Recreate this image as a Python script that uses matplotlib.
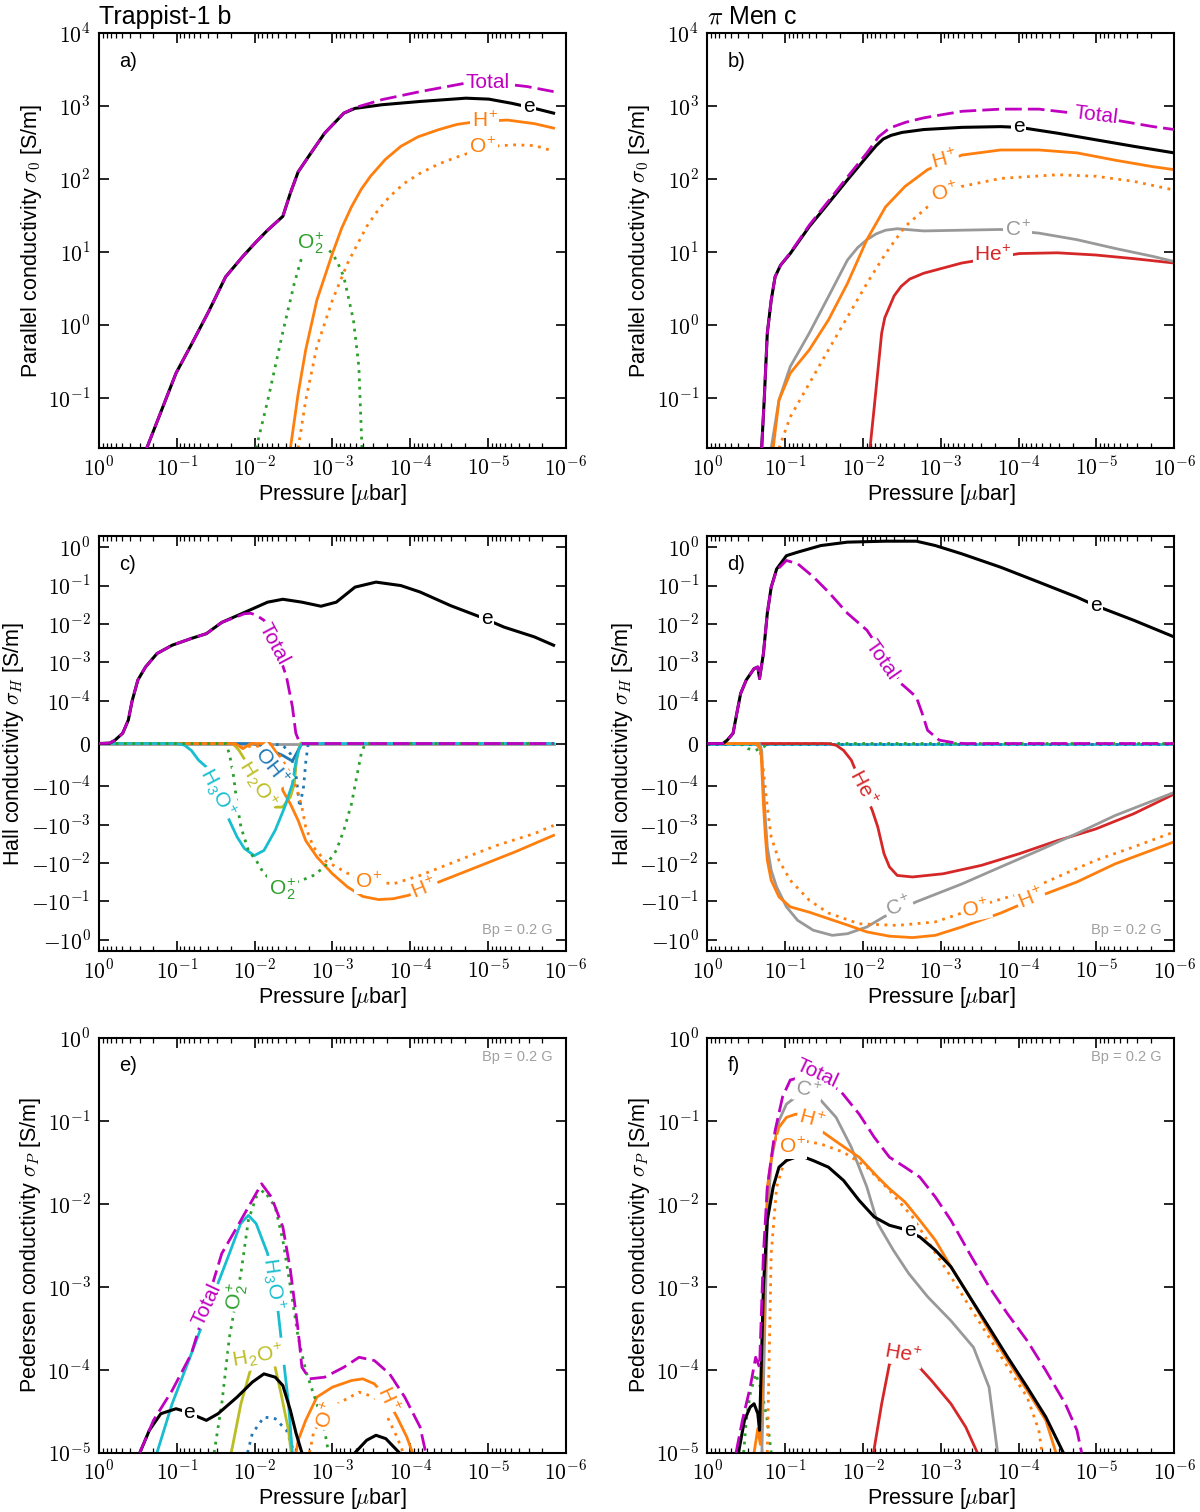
import numpy as np
import matplotlib
matplotlib.use('Agg')
import matplotlib.pyplot as plt
from matplotlib.ticker import (FuncFormatter, NullLocator, FixedLocator, NullFormatter)

plt.rcParams['font.family'] = ['Liberation Sans', 'DejaVu Sans']
plt.rcParams['mathtext.fontset'] = 'cm'

# --- colours / styles ---
MAG = '#bf00bf'
ORANGE = '#ff7f0e'
GREEN = '#2ca02c'
GRAY = '#999999'
RED = '#d62728'
CYAN = '#17becf'
OLIVE = '#bcbd22'
BLUE = '#1f77b4'
DASH = (0, (6, 2.2))
DOT = (0, (1, 2))

# ---------------- data (log10 pressure in ubar) ----------------
# a) parallel conductivity, Trappist-1 b  (log10 sigma)
a_e_lp = [-0.613, -0.745, -0.99, -1.186, -1.407, -1.627, -1.848, -2.02, -2.167, -2.363, -2.46,
          -2.56, -2.706, -2.90, -3.147, -3.29, -3.637, -4.127, -4.716, -5.01, -5.304, -5.598, -5.843]
a_e_ls = [-1.69, -1.33, -0.66, -0.27, 0.18, 0.66, 0.94, 1.14, 1.30, 1.49, 1.81,
          2.10, 2.33, 2.63, 2.905, 2.97, 3.02, 3.065, 3.11, 3.097, 3.04, 2.97, 2.905]
a_tot_lp = [-0.613, -0.745, -0.99, -1.186, -1.407, -1.627, -1.848, -2.02, -2.167, -2.363, -2.46,
            -2.56, -2.706, -2.90, -3.147, -3.29, -3.637, -4.127, -4.716, -5.108, -5.5, -5.843]
a_tot_ls = [-1.69, -1.33, -0.66, -0.27, 0.18, 0.66, 0.94, 1.14, 1.30, 1.49, 1.81,
            2.10, 2.33, 2.63, 2.905, 2.98, 3.09, 3.20, 3.317, 3.317, 3.27, 3.20]
a_hp_lp = [-2.46, -2.56, -2.657, -2.80, -3.0, -3.12, -3.245, -3.37, -3.49, -3.68, -3.88, -4.1,
           -4.37, -4.6, -4.86, -5.25, -5.6, -5.843]
a_hp_ls = [-1.69, -0.94, -0.34, 0.34, 0.98, 1.33, 1.62, 1.86, 2.04, 2.27, 2.45, 2.58,
           2.68, 2.75, 2.79, 2.81, 2.76, 2.70]
a_op_lp = [-2.56, -2.657, -2.80, -3.0, -3.196, -3.44, -3.59, -3.735, -3.92, -4.127, -4.37, -4.62,
           -5.01, -5.35, -5.6, -5.79]
a_op_ls = [-1.69, -1.03, -0.30, 0.34, 0.85, 1.35, 1.58, 1.76, 1.94, 2.08, 2.21, 2.31,
           2.45, 2.47, 2.46, 2.40]
a_o2_lp = [-2.02, -2.17, -2.36, -2.51, -2.62, -2.75, -2.88, -3.0, -3.07, -3.147, -3.27, -3.34, -3.38]
a_o2_ls = [-1.69, -1.03, -0.11, 0.57, 0.98, 1.12, 1.10, 0.98, 0.85, 0.66, 0.07, -0.57, -1.69]

# b) parallel conductivity, pi Men c
b_e_lp = [-0.697, -0.73, -0.77, -0.82, -0.87, -0.94, -1.065, -1.31, -1.556, -1.80, -2.05,
          -2.17, -2.26, -2.36, -2.5, -2.78, -3.27, -3.77, -4.01, -4.50, -4.99, -5.48, -6.0]
b_e_ls = [-1.69, -1.03, -0.11, 0.34, 0.66, 0.82, 0.98, 1.35, 1.67, 1.99, 2.31,
          2.46, 2.55, 2.60, 2.64, 2.68, 2.71, 2.72, 2.71, 2.63, 2.54, 2.45, 2.36]
b_tot_lp = [-0.697, -0.73, -0.77, -0.82, -0.87, -0.94, -1.065, -1.31, -1.556, -1.80, -2.05,
            -2.2, -2.34, -2.55, -2.78, -3.27, -3.77, -4.26, -4.75, -5.24, -5.73, -6.0]
b_tot_ls = [-1.69, -1.03, -0.11, 0.34, 0.66, 0.82, 0.99, 1.37, 1.70, 2.03, 2.36,
            2.58, 2.70, 2.78, 2.84, 2.93, 2.96, 2.96, 2.90, 2.81, 2.72, 2.68]
b_hp_lp = [-0.845, -0.92, -1.065, -1.31, -1.556, -1.80, -2.05, -2.29, -2.54, -2.83, -3.27,
           -3.77, -4.26, -4.75, -5.24, -5.73, -6.0]
b_hp_ls = [-1.69, -1.03, -0.66, -0.34, 0.07, 0.57, 1.17, 1.62, 1.90, 2.13, 2.33,
           2.40, 2.40, 2.36, 2.26, 2.17, 2.13]
b_op_lp = [-0.92, -1.065, -1.31, -1.556, -1.80, -2.05, -2.29, -2.54, -2.83, -3.27, -3.77,
           -4.50, -4.99, -5.48, -6.0]
b_op_ls = [-1.69, -1.26, -0.80, -0.34, 0.11, 0.57, 0.98, 1.35, 1.62, 1.90, 2.01,
           2.06, 2.04, 1.97, 1.85]
b_cp_lp = [-0.82, -0.92, -1.065, -1.31, -1.556, -1.80, -1.93, -2.05, -2.17, -2.29, -2.44, -2.78,
           -3.27, -3.77, -4.26, -4.75, -5.24, -5.73, -6.0]
b_cp_ls = [-1.69, -1.03, -0.57, -0.11, 0.39, 0.89, 1.06, 1.17, 1.25, 1.30, 1.32, 1.29,
           1.30, 1.31, 1.26, 1.17, 1.05, 0.94, 0.87]
b_hep_lp = [-2.09, -2.145, -2.24, -2.28, -2.34, -2.40, -2.49, -2.60, -2.78, -3.27, -4.01, -4.50,
            -4.99, -5.48, -6.0]
b_hep_ls = [-1.69, -1.12, -0.11, 0.10, 0.25, 0.40, 0.53, 0.63, 0.71, 0.85, 0.98, 0.99,
            0.96, 0.91, 0.85]

# c) Hall conductivity, Trappist-1 b  (signed sigma in S/m)
c_e_lp = [0.0, -0.14, -0.206, -0.304, -0.377, -0.426, -0.5, -0.598, -0.745, -0.94, -1.186, -1.38,
          -1.578, -1.87, -2.167, -2.363, -2.608, -2.853, -3.05, -3.29, -3.56, -3.88, -4.127,
          -4.52, -4.91, -5.206, -5.598, -5.843]
c_e_s = [0, 1e-6, 8e-6, 2.4e-5, 5.5e-5, 1.0e-4, 3.5e-4, 7.6e-4, 1.7e-3, 2.8e-3, 4.2e-3, 5.6e-3,
         1.1e-2, 2.0e-2, 3.7e-2, 4.4e-2, 3.7e-2, 2.9e-2, 3.7e-2, 9.1e-2, 0.123, 0.10, 0.068,
         0.030, 0.015, 8.3e-3, 4.6e-3, 2.8e-3]
c_tot_lp = [0.0, -0.14, -0.206, -0.304, -0.377, -0.426, -0.5, -0.598, -0.745, -0.94, -1.186, -1.38,
            -1.578, -1.87, -1.95, -2.02, -2.12, -2.216, -2.31, -2.41, -2.485, -2.53, -2.58,
            -2.62, -5.843]
c_tot_s = [0, 1e-6, 8e-6, 2.4e-5, 5.5e-5, 1.0e-4, 3.5e-4, 7.6e-4, 1.7e-3, 2.8e-3, 4.2e-3, 5.6e-3,
           1.1e-2, 1.85e-2, 1.9e-2, 1.7e-2, 1.25e-2, 5.6e-3, 1.7e-3, 4.2e-4, 8.7e-5, 2.4e-5, 1.5e-6,
           0, 0]
c_h3o_lp = [0.0, -1.0, -1.1, -1.186, -1.28, -1.38, -1.676, -1.775, -1.87, -1.995, -2.12, -2.265,
            -2.387, -2.485, -2.534, -2.58, -2.61, -5.843]
c_h3o_s = [0, 0, -4e-6, -1.6e-5, -3.9e-5, -5.5e-5, -7.8e-4, -2.1e-3, -4.2e-3, -6.4e-3, -4.7e-3,
           -1.4e-3, -3.5e-4, -9.5e-5, -3.9e-5, -7.9e-6, 0, 0]
c_o2_lp = [0.0, -1.63, -1.676, -1.725, -1.775, -1.824, -1.92, -2.02, -2.12, -2.265, -2.45, -2.608,
           -2.755, -2.90, -3.05, -3.147, -3.245, -3.32, -3.37, -3.42, -5.843]
c_o2_s = [0, 0, -2.4e-5, -7.1e-5, -2.9e-4, -1.15e-3, -4.7e-3, -8.5e-3, -1.9e-2, -3.2e-2, -3.5e-2,
          -2.8e-2, -2.1e-2, -1.26e-2, -4.7e-3, -1.4e-3, -2.9e-4, -7.1e-5, -2.4e-5, 0, 0]
c_h2o_lp = [0.0, -1.72, -1.8, -1.85, -2.265, -2.36, -2.46, -2.51, -2.53, -2.56, -2.59]
c_h2o_s = [0, 0, -1.6e-5, -3.1e-5, -3.5e-4, -3.5e-4, -1.9e-4, -9.5e-5, -5.5e-5, -1.6e-5, 0]
c_oh_lp = [0.0, -1.98, -2.07, -2.363, -2.485, -2.56, -2.61]
c_oh_s = [0, 0, -4e-6, -2.8e-5, -4.1e-5, -1.6e-5, 0]
c_x_lp = [-2.167, -2.363, -2.46, -2.53, -2.58, -2.63, -2.66, -2.69, -5.843]
c_x_s = [0, -4e-6, -2.4e-5, -7.1e-5, -3.5e-4, -1.0e-4, -3.9e-5, 0, 0]
c_op_lp = [0.0, -1.7, -1.85, -2.0, -2.31, -2.46, -2.534, -2.608, -2.657, -2.755, -2.90, -3.05,
           -3.245, -3.39, -3.78, -4.127, -4.618, -5.108, -5.598, -5.843]
c_op_s = [0, 0, -1.0e-5, -4e-6, -2.4e-5, -7.1e-5, -1.06e-4, -3.5e-4, -1.16e-3, -3.8e-3, -8.5e-3,
          -1.26e-2, -2.1e-2, -2.7e-2, -3.5e-2, -2.1e-2, -8.5e-3, -3.5e-3, -1.7e-3, -1.05e-3]
c_hp_lp = [0.0, -1.75, -1.85, -1.95, -2.2, -2.29, -2.363, -2.46, -2.56, -2.657, -2.80, -3.0,
           -3.196, -3.39, -3.59, -3.78, -3.98, -4.37, -4.86, -5.35, -5.843]
c_hp_s = [0, 0, -1.2e-5, 0, 0, -2.4e-5, -1.3e-4, -2.9e-4, -7.8e-4, -2.6e-3, -6.9e-3, -1.9e-2,
          -4.2e-2, -7.4e-2, -8.9e-2, -8.5e-2, -6.9e-2, -3.1e-2, -1.26e-2, -5.1e-3, -1.9e-3]
c_gray_lp = [0.0, -5.843]
c_gray_s = [0, 0]

# d) Hall conductivity, pi Men c
d_e_lp = [0.0, -0.2, -0.255, -0.33, -0.378, -0.427, -0.50, -0.60, -0.648, -0.67, -0.72, -0.77,
          -0.82, -0.89, -1.016, -1.16, -1.458, -1.80, -2.29, -2.685, -2.93, -3.27, -3.77, -4.26,
          -4.75, -4.99, -5.48, -6.0]
d_e_s = [0, 0, 7.9e-6, 2.4e-5, 7.1e-5, 1.55e-4, 3.5e-4, 6.9e-4, 7.6e-4, 3.8e-4, 1.7e-3, 1.9e-2,
         9.1e-2, 0.27, 0.6, 0.74, 1.1, 1.35, 1.43, 1.43, 1.1, 0.67, 0.30, 0.123,
         0.050, 0.030, 0.0125, 4.6e-3]
d_tot_lp = [0.0, -0.2, -0.255, -0.33, -0.378, -0.427, -0.50, -0.60, -0.648, -0.67, -0.72, -0.77,
            -0.82, -0.89, -1.016, -1.16, -1.36, -1.556, -1.80, -2.05, -2.34, -2.49, -2.54, -2.685,
            -2.76, -2.83, -2.98, -3.18, -3.3, -6.0]
d_tot_s = [0, 0, 7.9e-6, 2.4e-5, 7.1e-5, 1.55e-4, 3.5e-4, 6.9e-4, 7.6e-4, 3.8e-4, 1.7e-3, 1.9e-2,
           9.1e-2, 0.25, 0.45, 0.37, 0.17, 0.068, 1.9e-2, 6.9e-3, 9.3e-4, 2.8e-4, 2.3e-4, 1.26e-4,
           7.1e-5, 3.1e-5, 7.9e-6, 1.6e-6, 0, 0]
d_hep_lp = [0.0, -1.55, -1.654, -1.75, -1.85, -2.12, -2.19, -2.27, -2.34, -2.44, -2.636, -3.03,
            -3.52, -4.01, -4.50, -4.99, -5.48, -6.0]
d_hep_s = [0, 0, -4e-6, -1.6e-5, -3.9e-5, -4.3e-4, -1.15e-3, -5.7e-3, -1.26e-2, -2.1e-2, -2.3e-2,
           -1.9e-2, -1.15e-2, -5.7e-3, -2.6e-3, -1.3e-3, -5.2e-4, -1.6e-4]
d_cp_lp = [0.0, -0.67, -0.697, -0.72, -0.746, -0.77, -0.82, -0.89, -1.016, -1.16, -1.36, -1.605,
           -1.80, -2.05, -2.27, -2.685, -3.27, -3.77, -4.26, -4.75, -5.24, -6.0]
d_cp_s = [0, 0, -1.6e-5, -1.06e-4, -7.8e-4, -3.8e-3, -1.55e-2, -4.2e-2, -0.138, -0.31, -0.56, -0.76,
          -0.69, -0.46, -0.25, -0.102, -3.5e-2, -1.26e-2, -4.7e-3, -1.7e-3, -5.8e-4, -1.45e-4]
d_hp_lp = [0.0, -0.65, -0.69, -0.72, -0.746, -0.77, -0.82, -0.92, -1.065, -1.31, -1.556, -1.80,
           -2.05, -2.34, -2.636, -2.93, -3.27, -3.77, -4.35, -4.75, -5.24, -6.0]
d_hp_s = [0, 0, -2e-5, -2.9e-4, -2.1e-3, -8.5e-3, -2.8e-2, -7.6e-2, -0.138, -0.19, -0.28, -0.41,
          -0.62, -0.80, -0.87, -0.76, -0.46, -0.20, -6.3e-2, -3.1e-2, -1.05e-2, -2.8e-3]
d_op_lp = [0.0, -0.62, -0.67, -0.72, -0.77, -0.82, -0.92, -1.065, -1.31, -1.556, -1.95, -2.44,
           -2.93, -3.27, -3.67, -4.01, -4.50, -4.99, -5.48, -6.0]
d_op_s = [0, 0, -1.0e-5, -6.3e-5, -3.5e-4, -2.1e-3, -8.5e-3, -2.8e-2, -9.3e-2, -0.20, -0.38, -0.42,
          -0.34, -0.20, -0.10, -6.3e-2, -2.3e-2, -8.5e-3, -3.8e-3, -1.55e-3]
d_o2_lp = [0.0, -0.42, -0.52, -0.62, -0.72, -0.79, -6.0]
d_o2_s = [0, 0, -1.2e-5, -1.6e-5, -8e-6, 0, 0]
d_h3o_lp = [0.0, -6.0]
d_h3o_s = [0, 0]

# e) Pedersen conductivity, Trappist-1 b  (log10 sigma)
e_tot_lp = [-0.525, -0.70, -0.94, -1.186, -1.578, -1.775, -1.92, -2.09, -2.216, -2.363, -2.46,
            -2.56, -2.608, -2.706, -2.90, -3.147, -3.343, -3.54, -3.735, -3.93, -4.127, -4.20]
e_tot_ls = [-5.0, -4.61, -4.25, -3.81, -2.60, -2.28, -2.04, -1.76, -1.92, -2.28, -2.80,
            -3.53, -3.97, -4.11, -4.09, -3.97, -3.85, -3.89, -4.05, -4.33, -4.69, -5.0]
e_h3o_lp = [-0.745, -0.94, -1.186, -1.43, -1.676, -1.82, -1.92, -2.02, -2.167, -2.29, -2.363,
            -2.436, -2.485]
e_h3o_ls = [-5.0, -4.41, -3.81, -3.20, -2.60, -2.24, -2.14, -2.24, -2.60, -3.20, -3.81, -4.41, -5.0]
e_o2_lp = [-1.48, -1.578, -1.676, -1.824, -1.92, -2.02, -2.12, -2.265, -2.363, -2.46, -2.56,
           -2.657, -2.80, -2.90, -2.95]
e_o2_ls = [-5.0, -4.41, -3.61, -2.84, -2.20, -1.92, -1.84, -2.04, -2.44, -3.0, -3.61, -4.01,
           -4.41, -4.73, -5.0]
e_h2o_lp = [-1.70, -1.824, -1.95, -2.1, -2.24, -2.34, -2.436, -2.47]
e_h2o_ls = [-5.0, -4.41, -3.99, -3.85, -3.87, -4.29, -4.73, -5.0]
e_e_lp = [-0.525, -0.647, -0.794, -0.99, -1.1, -1.28, -1.38, -1.53, -1.775, -1.97, -2.12, -2.265,
          -2.363, -2.46, -2.534, -2.608, -2.95, -3.29, -3.44, -3.56, -3.686, -3.86]
e_e_ls = [-5.0, -4.73, -4.53, -4.47, -4.5, -4.57, -4.61, -4.53, -4.33, -4.15, -4.05, -4.09,
          -4.19, -4.49, -4.77, -5.0, -5.6, -5.0, -4.85, -4.79, -4.83, -5.0]
e_hp_lp = [-2.534, -2.56, -2.657, -2.80, -3.0, -3.245, -3.39, -3.54, -3.7, -3.83, -3.956, -4.03]
e_hp_ls = [-5.0, -4.85, -4.61, -4.33, -4.21, -4.13, -4.11, -4.17, -4.35, -4.57, -4.81, -5.0]
e_op_lp = [-2.706, -2.755, -2.9, -3.147, -3.343, -3.54, -3.686, -3.83, -3.91]
e_op_ls = [-5.0, -4.77, -4.5, -4.37, -4.27, -4.33, -4.53, -4.81, -5.0]
e_x_lp = [-1.91, -1.97, -2.12, -2.265, -2.41, -2.51]
e_x_ls = [-5.0, -4.77, -4.57, -4.59, -4.73, -5.0]

# f) Pedersen conductivity, pi Men c
f_tot_lp = [-0.368, -0.45, -0.55, -0.62, -0.67, -0.72, -0.77, -0.87, -0.967, -1.065, -1.3, -1.70,
            -1.95, -2.145, -2.34, -2.54, -2.73, -2.93, -3.13, -3.37, -3.62, -3.86, -4.11, -4.35,
            -4.60, -4.75, -4.81]
f_tot_ls = [-5.0, -4.61, -4.21, -3.85, -3.97, -2.60, -1.80, -1.12, -0.71, -0.51, -0.45, -0.63,
            -0.92, -1.20, -1.44, -1.56, -1.68, -1.92, -2.20, -2.60, -3.00, -3.33, -3.65, -4.01,
            -4.41, -4.73, -5.0]
f_cp_lp = [-0.70, -0.72, -0.77, -0.82, -0.92, -1.016, -1.114, -1.3, -1.458, -1.654, -1.85, -2.05,
           -2.19, -2.39, -2.587, -2.83, -3.13, -3.42, -3.62, -3.73]
f_cp_ls = [-5.0, -4.21, -2.20, -1.48, -1.0, -0.80, -0.73, -0.70, -0.755, -0.96, -1.32, -1.80,
           -2.24, -2.56, -2.84, -3.12, -3.41, -3.73, -4.21, -5.0]
f_hp_lp = [-0.60, -0.648, -0.68, -0.72, -0.77, -0.845, -0.92, -1.016, -1.14, -1.3, -1.458, -1.70,
           -1.95, -2.19, -2.34, -2.54, -2.73, -2.93, -3.13, -3.37, -3.62, -3.86, -4.11, -4.35, -4.48]
f_hp_ls = [-5.0, -4.71, -4.9, -3.41, -1.80, -1.32, -1.08, -0.96, -0.92, -1.0, -1.12, -1.28,
           -1.44, -1.68, -1.82, -1.98, -2.20, -2.44, -2.76, -3.12, -3.53, -3.89, -4.25, -4.61, -5.0]
f_op_lp = [-0.77, -0.82, -0.89, -0.967, -1.1, -1.21, -1.458, -1.75, -2.05, -2.34, -2.636, -2.88,
           -3.13, -3.37, -3.62, -3.86, -4.11, -4.26, -4.30]
f_op_ls = [-5.0, -2.60, -1.80, -1.56, -1.3, -1.24, -1.28, -1.38, -1.56, -1.84, -2.16, -2.52,
           -2.88, -3.24, -3.61, -3.97, -4.33, -4.73, -5.0]
f_e_lp = [-0.40, -0.476, -0.55, -0.60, -0.648, -0.67, -0.72, -0.77, -0.845, -0.92, -1.016, -1.19,
          -1.36, -1.556, -1.75, -1.95, -2.145, -2.34, -2.5, -2.73, -2.93, -3.13, -3.37, -3.62,
          -3.86, -4.11, -4.35, -4.575]
f_e_ls = [-5.0, -4.61, -4.45, -4.41, -4.53, -4.73, -3.0, -2.20, -1.80, -1.56, -1.48, -1.42,
          -1.48, -1.56, -1.72, -1.96, -2.16, -2.26, -2.30, -2.40, -2.56, -2.76, -3.12, -3.49,
          -3.85, -4.21, -4.57, -5.0]
f_hep_lp = [-2.135, -2.24, -2.34, -2.5, -2.685, -2.88, -3.13, -3.32, -3.47]
f_hep_ls = [-5.0, -4.41, -3.93, -3.85, -3.93, -4.13, -4.41, -4.69, -5.0]
f_o2_lp = [-0.466, -0.50, -0.55, -0.62, -0.697, -0.77, -0.82]
f_o2_ls = [-5.0, -4.61, -4.29, -4.05, -4.25, -4.61, -5.0]

# ion label strings
HP = r'H$^\mathregular{+}$'
OP = r'O$^\mathregular{+}$'
CP = r'C$^\mathregular{+}$'
HEP = r'He$^\mathregular{+}$'
O2P = r'O$_\mathregular{2}^\mathregular{+}$'
H2OP = r'H$_\mathregular{2}$O$^\mathregular{+}$'
H3OP = r'H$_\mathregular{3}$O$^\mathregular{+}$'
OHP = r'OH$^\mathregular{+}$'

# pressure decades shown on every x axis (1 ... 1e-6 ubar)
P_MAJOR = [1e0, 1e-1, 1e-2, 1e-3, 1e-4, 1e-5, 1e-6]
P_MINOR = [m * d for d in P_MAJOR[1:] for m in range(2, 10)]


def pow10(v, pos):
    if v == 0:
        return r'$0$'
    e = int(round(np.log10(abs(v))))
    sign = '-' if v < 0 else ''
    return r'$%s10^{%d}$' % (sign, e)


def setup(ax, kind, ylabel):
    ax.set_xscale('log')
    ax.set_xlim(1, 1e-6)
    if kind == 'sym':
        ax.set_yscale('symlog', linthresh=1e-4, linscale=1)
        ax.set_ylim(-1.95, 1.95)
        ax.yaxis.set_major_locator(FixedLocator(
            [-1, -1e-1, -1e-2, -1e-3, -1e-4, 0, 1e-4, 1e-3, 1e-2, 1e-1, 1]))
    elif kind == 'par':
        ax.set_yscale('log')
        ax.set_ylim(2.04e-2, 1e4)
        ax.yaxis.set_major_locator(FixedLocator([1e-1, 1, 1e1, 1e2, 1e3, 1e4]))
    else:
        ax.set_yscale('log')
        ax.set_ylim(1e-5, 1)
        ax.yaxis.set_major_locator(FixedLocator([1e-5, 1e-4, 1e-3, 1e-2, 1e-1, 1]))
    ax.yaxis.set_minor_locator(NullLocator())
    ax.xaxis.set_major_locator(FixedLocator(P_MAJOR))
    ax.xaxis.set_minor_locator(FixedLocator(P_MINOR))
    ax.xaxis.set_minor_formatter(NullFormatter())
    ax.xaxis.set_major_formatter(FuncFormatter(pow10))
    ax.yaxis.set_major_formatter(FuncFormatter(pow10))
    ax.tick_params(which='both', direction='in', top=True, right=True, labelsize=15.5)
    ax.tick_params(which='major', length=7, width=1.2, pad=6)
    ax.tick_params(which='minor', length=3.5, width=0.9)
    for sp in ax.spines.values():
        sp.set_linewidth(1.5)
    ax.set_xlabel(r'Pressure [$\mu$bar]', fontsize=15.5, labelpad=1)
    ax.set_ylabel(ylabel, fontsize=15.5, labelpad=3)


def logline(ax, lp, ls, color, style='-', lw=2.0, z=2):
    ax.plot(np.power(10.0, lp), np.power(10.0, ls), color=color, ls=style, lw=lw, zorder=z)


def symline(ax, lp, s, color, style='-', lw=2.0, z=2):
    ax.plot(np.power(10.0, lp), s, color=color, ls=style, lw=lw, zorder=z)


def tag(ax, lp, y, s, color, rot=0, size=15, logy=True):
    yy = 10.0 ** y if logy else y
    ax.text(10.0 ** lp, yy, s, color=color, fontsize=size, rotation=rot,
            ha='center', va='center', rotation_mode='anchor', zorder=10,
            bbox=dict(boxstyle='square,pad=0.08', fc='white', ec='none'))


def corner(ax, letter, bp=None):
    ax.text(0.043, 0.932, letter, transform=ax.transAxes, fontsize=14.5, va='center')
    if bp == 'low':
        ax.text(0.972, 0.05, 'Bp = 0.2 G', transform=ax.transAxes, fontsize=10.5,
                color='#a0a0a0', ha='right', va='center')
    elif bp == 'high':
        ax.text(0.972, 0.953, 'Bp = 0.2 G', transform=ax.transAxes, fontsize=10.5,
                color='#a0a0a0', ha='right', va='center')


fig = plt.figure(figsize=(12, 15.12), dpi=100)
W, H = 0.389, 0.2745
XL, XR = 0.0825, 0.5895
ax_a = fig.add_axes([XL, 0.7035, W, H])
ax_b = fig.add_axes([XR, 0.7035, W, H])
ax_c = fig.add_axes([XL, 0.371, W, H])
ax_d = fig.add_axes([XR, 0.371, W, H])
ax_e = fig.add_axes([XL, 0.0392, W, H])
ax_f = fig.add_axes([XR, 0.0392, W, H])

lab_par = r'Parallel conductivity $\sigma_0$ [S/m]'
lab_hall = r'Hall conductivity $\sigma_H$ [S/m]'
lab_ped = r'Pedersen conductivity $\sigma_P$ [S/m]'

# ---- a) ----
ax = ax_a
setup(ax, 'par', lab_par)
ax.set_title('Trappist-1 b', loc='left', fontsize=18, pad=7)
logline(ax, a_o2_lp, a_o2_ls, GREEN, DOT)
logline(ax, a_op_lp, a_op_ls, ORANGE, DOT)
logline(ax, a_hp_lp, a_hp_ls, ORANGE)
logline(ax, a_e_lp, a_e_ls, 'black', lw=2.2, z=3)
logline(ax, a_tot_lp, a_tot_ls, MAG, DASH, z=4)
tag(ax, -5.0, 3.33, 'Total', MAG)
tag(ax, -5.52, 3.0, 'e', 'black')
tag(ax, -4.96, 2.80, HP, ORANGE)
tag(ax, -4.93, 2.44, OP, ORANGE)
tag(ax, -2.72, 1.12, O2P, GREEN)
corner(ax, 'a)')

# ---- b) ----
ax = ax_b
setup(ax, 'par', lab_par)
ax.set_title(r'$\pi$ Men c', loc='left', fontsize=18, pad=7)
logline(ax, b_hep_lp, b_hep_ls, RED)
logline(ax, b_cp_lp, b_cp_ls, GRAY)
logline(ax, b_op_lp, b_op_ls, ORANGE, DOT)
logline(ax, b_hp_lp, b_hp_ls, ORANGE)
logline(ax, b_e_lp, b_e_ls, 'black', lw=2.2, z=3)
logline(ax, b_tot_lp, b_tot_ls, MAG, DASH, z=4)
tag(ax, -4.99, 2.88, 'Total', MAG, rot=-7)
tag(ax, -4.0, 2.72, 'e', 'black')
tag(ax, -3.05, 2.26, HP, ORANGE, rot=15)
tag(ax, -3.05, 1.81, OP, ORANGE, rot=15)
tag(ax, -3.99, 1.31, CP, GRAY)
tag(ax, -3.67, 0.96, HEP, RED)
corner(ax, 'b)')

# ---- c) ----
ax = ax_c
setup(ax, 'sym', lab_hall)
symline(ax, c_gray_lp, c_gray_s, GRAY, z=1)
symline(ax, c_h2o_lp, c_h2o_s, OLIVE)
symline(ax, c_oh_lp, c_oh_s, BLUE)
symline(ax, c_x_lp, c_x_s, BLUE, DOT)
symline(ax, c_hp_lp, c_hp_s, ORANGE)
symline(ax, c_op_lp, c_op_s, ORANGE, DOT)
symline(ax, c_h3o_lp, c_h3o_s, CYAN)
symline(ax, c_o2_lp, c_o2_s, GREEN, DOT)
symline(ax, c_e_lp, c_e_s, 'black', lw=2.2, z=3)
symline(ax, c_tot_lp, c_tot_s, MAG, DASH, z=4)
tag(ax, -4.985, 0.0138, 'e', 'black', logy=False)
tag(ax, -2.24, 3.1e-3, 'Total', MAG, rot=-62, logy=False)
tag(ax, -1.53, -1.45e-4, H3OP, CYAN, rot=-62, logy=False)
tag(ax, -2.04, -0.95e-4, H2OP, OLIVE, rot=-58, logy=False)
tag(ax, -2.216, -5.5e-5, OHP, BLUE, rot=-52, logy=False)
tag(ax, -2.36, -4.7e-2, O2P, GREEN, logy=False)
tag(ax, -3.47, -3.1e-2, OP, ORANGE, logy=False)
tag(ax, -4.18, -4.7e-2, HP, ORANGE, rot=22, logy=False)
corner(ax, 'c)', 'low')

# ---- d) ----
ax = ax_d
setup(ax, 'sym', lab_hall)
symline(ax, d_h3o_lp, d_h3o_s, CYAN, z=1)
symline(ax, d_h3o_lp, d_h3o_s, BLUE, DOT, z=1)
symline(ax, d_o2_lp, d_o2_s, GREEN, DOT)
symline(ax, d_hep_lp, d_hep_s, RED)
symline(ax, d_cp_lp, d_cp_s, GRAY)
symline(ax, d_op_lp, d_op_s, ORANGE, DOT)
symline(ax, d_hp_lp, d_hp_s, ORANGE)
symline(ax, d_e_lp, d_e_s, 'black', lw=2.2, z=3)
symline(ax, d_tot_lp, d_tot_s, MAG, DASH, z=4)
tag(ax, -4.99, 0.030, 'e', 'black', logy=False)
tag(ax, -2.24, 1.15e-3, 'Total', MAG, rot=-55, logy=False)
tag(ax, -2.0, -1.07e-4, HEP, RED, rot=-62, logy=False)
tag(ax, -2.46, -0.138, CP, GRAY, rot=22, logy=False)
tag(ax, -3.45, -0.155, OP, ORANGE, rot=12, logy=False)
tag(ax, -4.16, -8.5e-2, HP, ORANGE, rot=22, logy=False)
corner(ax, 'd)', 'low')

# ---- e) ----
ax = ax_e
setup(ax, 'ped', lab_ped)
logline(ax, e_x_lp, e_x_ls, BLUE, DOT)
logline(ax, e_h2o_lp, e_h2o_ls, OLIVE)
logline(ax, e_op_lp, e_op_ls, ORANGE, DOT)
logline(ax, e_hp_lp, e_hp_ls, ORANGE)
logline(ax, e_h3o_lp, e_h3o_ls, CYAN)
logline(ax, e_o2_lp, e_o2_ls, GREEN, DOT)
logline(ax, e_e_lp, e_e_ls, 'black', lw=2.2, z=3)
logline(ax, e_tot_lp, e_tot_ls, MAG, DASH, z=4)
tag(ax, -1.38, -3.22, 'Total', MAG, rot=65)
tag(ax, -1.765, -3.12, O2P, GREEN, rot=82)
tag(ax, -2.24, -2.96, H3OP, CYAN, rot=-82)
tag(ax, -2.04, -3.83, H2OP, OLIVE, rot=10)
tag(ax, -1.16, -4.51, 'e', 'black')
tag(ax, -2.93, -4.55, OP, ORANGE, rot=70)
tag(ax, -3.71, -4.35, HP, ORANGE, rot=-65)
corner(ax, 'e)', 'high')

# ---- f) ----
ax = ax_f
setup(ax, 'ped', lab_ped)
logline(ax, f_o2_lp, f_o2_ls, GREEN, DOT)
logline(ax, f_hep_lp, f_hep_ls, RED)
logline(ax, f_cp_lp, f_cp_ls, GRAY)
logline(ax, f_op_lp, f_op_ls, ORANGE, DOT)
logline(ax, f_hp_lp, f_hp_ls, ORANGE)
logline(ax, f_e_lp, f_e_ls, 'black', lw=2.2, z=3)
logline(ax, f_tot_lp, f_tot_ls, MAG, DASH, z=4)
tag(ax, -1.41, -0.43, 'Total', MAG, rot=-25)
tag(ax, -1.29, -0.63, CP, GRAY, rot=-10)
tag(ax, -1.335, -0.98, HP, ORANGE, rot=-15)
tag(ax, -1.09, -1.32, OP, ORANGE)
tag(ax, -2.60, -2.32, 'e', 'black')
tag(ax, -2.51, -3.81, HEP, RED, rot=-10)
corner(ax, 'f)', 'high')

fig.savefig('out.png', dpi=100, facecolor='white')
